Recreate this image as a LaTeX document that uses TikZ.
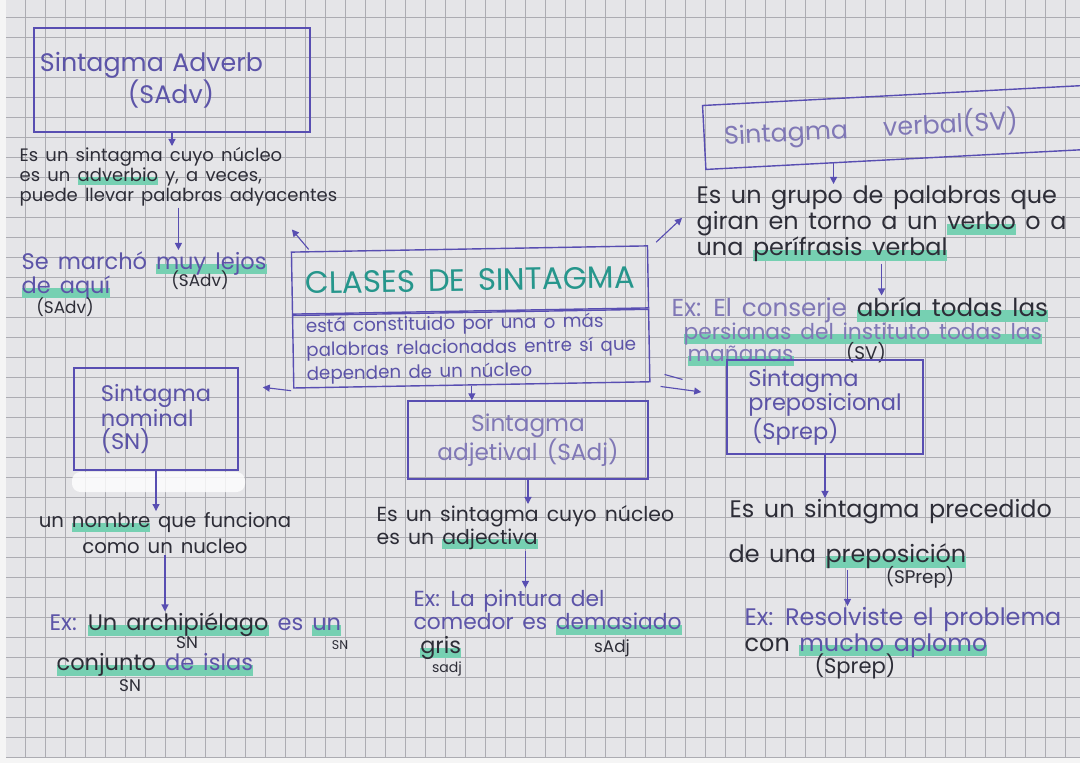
\documentclass[tikz,border=0pt]{standalone}
\usepackage{fontspec}
\setmainfont{Poppins}
\usetikzlibrary{arrows.meta,calc,positioning}

\definecolor{papel}{RGB}{229,229,232}
\definecolor{cuadro}{RGB}{172,172,178}
\definecolor{tinta}{RGB}{88,78,178}
\definecolor{violeta}{RGB}{92,84,168}
\definecolor{lapiz}{RGB}{45,45,55}
\definecolor{grisv}{RGB}{128,120,182}
\definecolor{marcador}{RGB}{118,208,178}
\definecolor{turquesa}{RGB}{38,150,140}

% resaltado con rotulador
\newcommand\marcar[1]{\setbox0=\hbox{#1}\leavevmode\rlap{\textcolor{marcador}{\rule[-0.4ex]{\wd0}{0.85ex}}}\box0\relax}
\newcommand\tam[2]{\fontsize{#1}{#2}\selectfont\spaceskip=0.4em plus 0.1em\relax}

\tikzset{
  caja/.style={draw=tinta, line width=1pt, text=violeta, align=center, inner sep=2pt},
  nota/.style={text=lapiz, align=left, inner sep=1pt},
  ejemplo/.style={text=violeta, align=left, inner sep=1pt},
  etiqueta/.style={text=lapiz, inner sep=0pt},
  flecha/.style={draw=tinta, line width=0.8pt, -{Triangle[length=5pt,width=5pt]}},
}

\begin{document}
\begin{tikzpicture}[x=0.025cm, y=-0.025cm]
\useasboundingbox (0,0) rectangle (1080,763);
% papel cuadriculado
\fill[white!96!black] (0,0) rectangle (1080,763);
\fill[papel] (6,0) rectangle (1080,757);
\foreach \gx in {25,45,...,1085} \draw[cuadro, line width=0.5pt] (\gx,0) -- (\gx,757);
\foreach \gy in {17,37,...,757} \draw[cuadro, line width=0.5pt] (6,\gy) -- (1080,\gy);

% Sintagma adverbial
\node[caja, minimum width=6.9cm, minimum height=2.6cm, text width=6.6cm, align=left, font=\tam{18}{19}] (sadv) at (172,80) {Sintagma Adverb\\\hspace*{2.2cm}(SAdv)};
\node[nota, anchor=north west, font=\tam{12.8}{14}] (sadvdef) at (18,146) {Es un sintagma cuyo núcleo\\es un \marcar{adverbio} y, a veces,\\puede llevar palabras adyacentes};
\node[ejemplo, anchor=north west, font=\tam{16}{17}] (ejadv) at (20,250) {Se marchó \marcar{muy lejos}\\\marcar{de aquí}};
\node[etiqueta, font=\tam{12}{12}] (lbadv1) at (200,280) {(SAdv)};
\node[etiqueta, font=\tam{12}{12}] (lbadv2) at (65,307) {(SAdv)};

% Clases de sintagma
\node[caja, minimum width=8.9cm, minimum height=1.55cm, rotate=1, text=turquesa, font=\tam{22}{24}] (clases) at (470,280) {CLASES DE SINTAGMA};
\node[caja, below=0pt of clases, minimum width=8.9cm, minimum height=1.7cm, rotate=1, align=left, font=\tam{13}{17}] (desc) {está constituido por una o más\\palabras relacionadas entre sí que\\dependen de un núcleo};

% Sintagma nominal
\node[caja, minimum width=4.1cm, minimum height=2.55cm, align=left, font=\tam{16}{15}] (sn) at (156,419) {Sintagma\\nominal\\(SN)};
\fill[white, opacity=0.8, rounded corners=6pt] (72,472) rectangle (245,492);
\node[nota, align=center, font=\tam{14}{18}] (sndef) at (165,533) {un \marcar{nombre} que funciona\\como un nucleo};
\node[ejemplo, anchor=west, font=\tam{16}{16}] (ejsn1) at (48,625) {Ex: \marcar{\textcolor{lapiz}{Un archipiélago}} es \marcar{un}};
\node[ejemplo, anchor=west, font=\tam{16}{16}] (ejsn2) at (55,665) {\marcar{\textcolor{lapiz}{conjunto} de islas}};
\node[etiqueta, font=\tam{12}{12}] (lbsn1) at (187,643) {SN};
\node[etiqueta, font=\tam{9}{9}] (lbsn2) at (340,645) {SN};
\node[etiqueta, font=\tam{12}{12}] (lbsn3) at (130,686) {SN};

% Sintagma adjetival
\node[caja, minimum width=6cm, minimum height=1.95cm, text=grisv, font=\tam{16.5}{15.5}] (sadj) at (528,440) {Sintagma\\adjetival (SAdj)};
\node[nota, anchor=north west, font=\tam{14.5}{16}] (adjdef) at (375,504) {Es un sintagma cuyo núcleo\\es un \marcar{adjectiva}};
\node[ejemplo, anchor=north west, font=\tam{15.5}{14.5}] (ejadj) at (412,588) {Ex: La pintura del\\comedor es \marcar{demasiado}};
\node[etiqueta, anchor=west, font=\tam{16}{16}] (gris) at (420,648) {\marcar{gris}};
\node[etiqueta, font=\tam{10}{10}] (lbadj1) at (447,669) {sadj};
\node[etiqueta, font=\tam{12}{12}] (lbadj2) at (612,648) {sAdj};

% Sintagma verbal
\node[caja, minimum width=10cm, minimum height=1.6cm, rotate=3, text width=9.6cm, align=left, text=grisv, font=\tam{18}{18}] (sv) at (904,127) {\hspace*{0.3cm}Sintagma\hspace{1.4em}verbal(SV)};
\node[nota, anchor=north west, font=\tam{17}{16.5}] (svdef) at (695,184) {Es un grupo de palabras que\\giran en torno a un \marcar{verbo} o a\\una \marcar{perífrasis verbal}};
\node[ejemplo, anchor=west, text=grisv, font=\tam{17.5}{17}] (ejsv1) at (670,310) {Ex: El conserje \marcar{\textcolor{lapiz}{abría todas las}}};
\node[ejemplo, anchor=west, text=grisv, font=\tam{15.5}{15}] (ejsv2) at (682,334) {\marcar{persianas del instituto todas las}};
\node[ejemplo, anchor=west, text=grisv, font=\tam{15.5}{15}] (ejsv3) at (686,356) {\marcar{mañanas}};
\node[etiqueta, font=\tam{13}{13}] (lbsv) at (866,353) {(SV)};

% Sintagma preposicional
\node[caja, minimum width=4.9cm, minimum height=2.35cm, align=left, font=\tam{16}{14.5}] (sprep) at (825,407) {Sintagma\\preposicional\\\,(Sprep)};
\node[nota, anchor=west, font=\tam{17}{18}] (spdef1) at (728,512) {Es un sintagma precedido};
\node[nota, anchor=west, font=\tam{17}{18}] (spdef2) at (727,556) {de una \marcar{preposición}};
\node[etiqueta, font=\tam{13}{13}] (lbsp1) at (920,577) {(SPrep)};
\node[ejemplo, anchor=north west, font=\tam{17}{16}] (ejsp) at (743,606) {Ex: Resolviste el problema\\\textcolor{lapiz}{con} \marcar{mucho aplomo}};
\node[etiqueta, font=\tam{15}{15}] (lbsp2) at (855,666) {(Sprep)};

% flechas
\draw[flecha] (sadv.south) -- (sadv.south |- sadvdef.north);
\draw[flecha] (sadvdef.south) -- (sadvdef.south |- ejadv.north);
\draw[flecha] ($(clases.north west)+(18,-2)$) -- ($(sadvdef.south east)+(-47,22)$);
\draw[flecha] ($(clases.north east)+(8,-3)$) -- ($(svdef.west)+(-13,-6)$);
\draw[flecha] ($(desc.south west)+(-2,2)$) -- ($(sn.north east)+(24,20)$);
\draw[flecha] (desc.south) -- (desc.south |- sadj.north);
\draw[tinta, line width=0.8pt] ($(desc.south east)+(14,-8)$) -- ($(desc.south east)+(32,-3)$);
\draw[flecha] ($(desc.south east)+(10,4)$) -- ($(sprep.west)+(-25,-15)$);
\draw[flecha] ($(sv.south west)!0.32!(sv.south east)$) coordinate (svpie) -- (svpie |- svdef.north);
\draw[flecha] (svdef.south) -- (svdef.south |- ejsv1.north);
\draw[flecha] (sprep.south) -- (sprep.south |- spdef1.north);
\draw[flecha] (spdef2.south) -- (spdef2.south |- ejsp.north);
\draw[flecha] (sn.south) -- (sn.south |- sndef.north);
\draw[flecha] (sndef.south) -- (sndef.south |- ejsn1.north);
\draw[flecha] (sadj.south) -- (sadj.south |- adjdef.north);
\draw[flecha] (adjdef.south) -- (adjdef.south |- ejadj.north);
\end{tikzpicture}
\end{document}
